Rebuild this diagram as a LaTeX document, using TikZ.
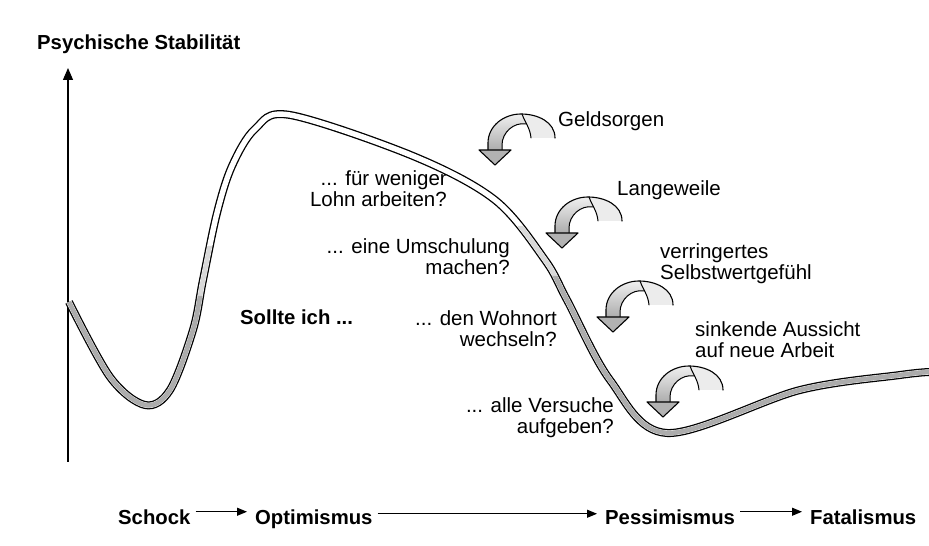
\documentclass[tikz,border=0pt]{standalone}
\usepackage{fontspec}
\setmainfont{Liberation Sans}
\usetikzlibrary{arrows.meta,positioning}

\begin{document}
\begin{tikzpicture}[x=1pt,y=1pt,
      lbl/.style={font=\fontsize{20.5}{21}\selectfont,inner sep=0pt},
      lblb/.style={font=\fontsize{20.3}{21}\selectfont\bfseries,inner sep=0pt},
      flow/.style={-{Triangle[length=10pt,width=8pt]},line width=1.1pt,
                   shorten <=5pt,shorten >=8pt},
      gloom/.pic={
        % back of the ribbon
        \path[fill=gray!15]
          (26,51) to[out=0,in=90] (60,27) -- (36,27) to[out=95,in=-70] (27,51) -- cycle;
        % front of the ribbon
        \path[top color=gray!12,bottom color=gray!65]
          (-7,15) -- (-7,22) to[out=90,in=180] (26,51) -- (27,51)
          to[out=-70,in=95] (31,41) to[out=170,in=90] (7,20) -- (7,15) -- cycle;
        \draw[line width=1.1pt,line cap=round]
          (-7,15) -- (-7,22) to[out=90,in=180] (26,51) to[out=0,in=90] (60,27);
        \draw[line width=1pt,line cap=round]
          (27,51) to[out=-70,in=95] (36,27);
        \draw[line width=1pt,line cap=round]
          (31,41) to[out=170,in=90] (7,20) -- (7,15);
        \path[fill=gray!60,draw=black,line width=1.1pt,line join=round]
          (0,0) -- (-16,15) -- (16,15) -- cycle;
      }]
      \useasboundingbox (0,0) rectangle (929,546);
      % axis
      \coordinate (ax0) at (68,84);
      \coordinate (ax1) at (68,478);
      \draw[-{Triangle[length=12pt,width=10pt]},line width=1.2pt] (ax0) -- (ax1);
      \node[lblb,anchor=base west] (ttl) at (37,496) {Psychische Stabilität};
      % band
      \draw[line width=8pt,line cap=butt] plot[smooth,tension=0.55] coordinates {
        (69,244) (110,169) (145,141) (170,156) (193,216) (203,266) (217,333)
        (232,380) (255,417) (290,431) (413,390)
        (495,346) (545,286) (567,246) (610,166) (667,113) (800,156) (900,171) (929,174)};
      \draw[line width=5.4pt,white,line cap=butt] plot[smooth,tension=0.55] coordinates {
        (69,244) (110,169) (145,141) (170,156) (193,216) (203,266) (217,333)
        (232,380) (255,417) (290,431) (413,390)
        (495,346) (545,286) (567,246) (610,166) (667,113) (800,156) (900,171) (929,174)};
      \begin{scope}
        \clip (0,0) rectangle (260,300) (500,0) rectangle (929,320);
        \draw[line width=4.6pt,gray!30,line cap=butt] plot[smooth,tension=0.55] coordinates {
          (69,244) (110,169) (145,141) (170,156) (193,216) (203,266) (217,333)
          (232,380) (255,417) (290,431) (413,390)
          (495,346) (545,286) (567,246) (610,166) (667,113) (800,156) (900,171) (929,174)};
      \end{scope}
      \begin{scope}
        \clip (0,0) rectangle (260,250) (540,0) rectangle (929,270);
        \draw[line width=4.6pt,gray!65,line cap=butt] plot[smooth,tension=0.55] coordinates {
          (69,244) (110,169) (145,141) (170,156) (193,216) (203,266) (217,333)
          (232,380) (255,417) (290,431) (413,390)
          (495,346) (545,286) (567,246) (610,166) (667,113) (800,156) (900,171) (929,174)};
      \end{scope}
      % questions
      \node[lblb,anchor=base west] (q0) at (240,221) {Sollte ich ...};
      \node[lbl,anchor=east,align=right] (q1) at (447,357) {... für weniger\\Lohn arbeiten?};
      \node[lbl,anchor=east,align=right] (q2) at (510,289) {... eine Umschulung\\machen?};
      \node[lbl,anchor=east,align=right] (q3) at (557,217) {... den Wohnort\\wechseln?};
      \node[lbl,anchor=east,align=right] (q4) at (614,128) {... alle Versuche\\aufgeben?};
      % burdens
      \pic (a1) at (495,381) {gloom};
      \pic (a2) at (562,298) {gloom};
      \pic (a3) at (613,214) {gloom};
      \pic (a4) at (663,129) {gloom};
      \node[lbl,anchor=base west] (b1) at (558,419) {Geldsorgen};
      \node[lbl,anchor=base west] (b2) at (617,350) {Langeweile};
      \node[lbl,anchor=west,align=left] (b3) at (660,282) {verringertes\\Selbstwertgefühl};
      \node[lbl,anchor=west,align=left] (b4) at (695,206) {sinkende Aussicht\\auf neue Arbeit};
      % phases
      \node[lblb,anchor=base west] (p1) at (118,21) {Schock};
      \node[lblb,anchor=base west] (p2) at (255,21) {Optimismus};
      \node[lblb,anchor=base west] (p3) at (605,21) {Pessimismus};
      \node[lblb,anchor=base west] (p4) at (810,21) {Fatalismus};
      \draw[flow] (p1.east) ++(0,6) coordinate (f1) -- (f1 -| p2.west);
      \draw[flow] (p2.east) ++(0,6) coordinate (f2) -- (f2 -| p3.west);
      \draw[flow] (p3.east) ++(0,6) coordinate (f3) -- (f3 -| p4.west);
\end{tikzpicture}
\end{document}
